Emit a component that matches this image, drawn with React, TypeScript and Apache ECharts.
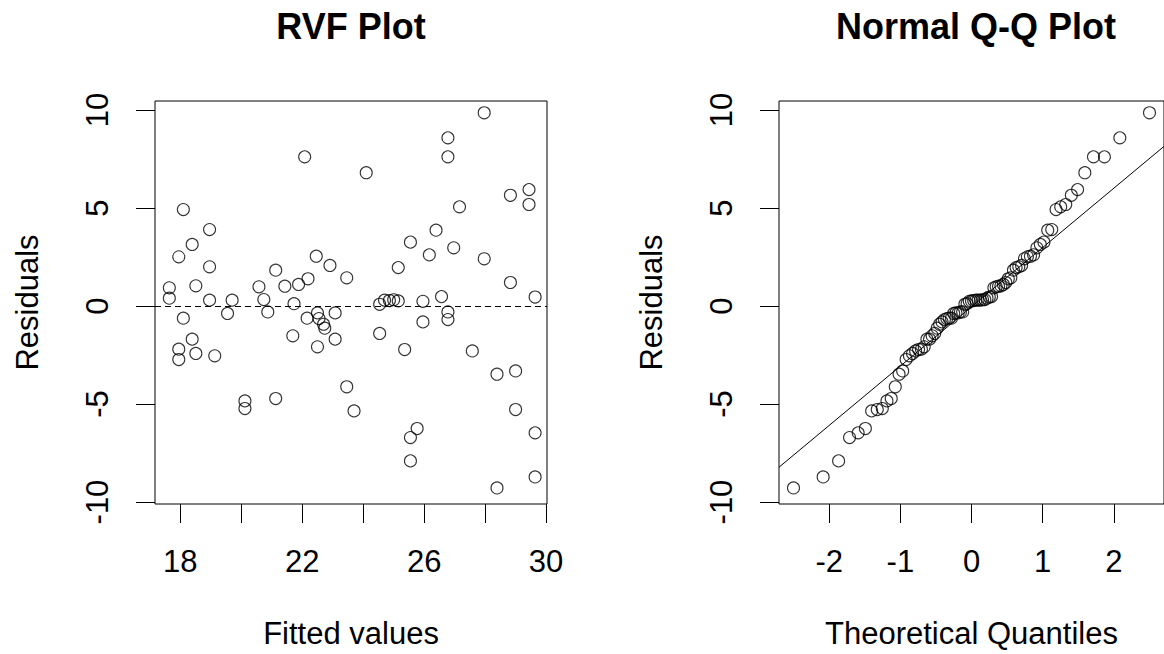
import React, { useEffect, useRef } from "react";
import * as echarts from "echarts";

// ---- data ----
const fittedValues: number[] = [
  22.08, 18.1, 18.96, 18.39, 17.95, 18.96, 22.46, 22.91, 23.46, 21.13,
  22.19, 21.88, 21.43, 20.58, 18.51, 17.64, 17.64, 18.96, 19.7, 20.74,
  21.73, 18.1, 19.55, 20.87, 22.16, 22.5, 22.55, 22.7, 22.74, 23.08,
  23.08, 21.69, 22.5, 18.39, 17.95, 17.95, 18.51, 19.13, 20.12, 20.12,
  21.13, 23.46, 23.7, 27.97, 26.78, 26.78, 24.1, 28.83, 29.44, 29.44,
  27.16, 26.39, 25.55, 26.97, 26.17, 27.97, 25.15, 28.83, 29.64, 26.57,
  25.96, 24.54, 24.7, 24.86, 25.0, 25.15, 26.78, 26.78, 25.96, 24.54,
  25.36, 27.58, 28.39, 29.0, 29.0, 25.77, 25.55, 25.55, 29.64, 29.64, 28.39,
];
const residualValues: number[] = [
  7.61, 4.92, 3.9, 3.14, 2.51, 2.0, 2.54, 2.07, 1.44, 1.83,
  1.39, 1.1, 1.01, 0.98, 1.03, 0.93, 0.4, 0.3, 0.3, 0.33,
  0.12, -0.62, -0.38, -0.3, -0.62, -0.35, -0.64, -0.93, -1.13, -0.35,
  -1.69, -1.52, -2.08, -1.69, -2.2, -2.73, -2.42, -2.54, -4.84, -5.23,
  -4.72, -4.12, -5.35, 9.86, 8.58, 7.61, 6.8, 5.65, 5.94, 5.18,
  5.06, 3.87, 3.26, 2.97, 2.61, 2.41, 1.96, 1.2, 0.46, 0.48,
  0.24, 0.09, 0.3, 0.28, 0.32, 0.26, -0.3, -0.69, -0.81, -1.4,
  -2.22, -2.29, -3.48, -3.31, -5.28, -6.25, -6.71, -7.9, -6.47, -8.72, -9.28,
];

const rvfXTicks: number[] = [18, 20, 22, 24, 26, 28, 30];
const rvfXLabels: number[] = [18, 22, 26, 30];
const yTicks: number[] = [-10, -5, 0, 5, 10];
const qqXTicks: number[] = [-2, -1, 0, 1, 2];

const rvfXRange: number[] = [17.17, 30.03];
const qqXRange: number[] = [-2.706, 2.706];
const yRange: number[] = [-10.1, 10.46];

const titles: string[] = ["RVF Plot", "Normal Q-Q Plot"];
const xNames: string[] = ["Fitted values", "Theoretical Quantiles"];
const yName = "Residuals";

// ---- helpers ----
function qnorm(p: number): number {
  const a = [-3.969683028665376e1, 2.209460984245205e2, -2.759285104469687e2, 1.38357751867269e2, -3.066479806614716e1, 2.506628277459239];
  const b = [-5.447609879822406e1, 1.615858368580409e2, -1.556989798598866e2, 6.680131188771972e1, -1.328068155288572e1];
  const c = [-7.784894002430293e-3, -3.223964580411365e-1, -2.400758277161838, -2.549732539343734, 4.374664141464968, 2.938163982698783];
  const d = [7.784695709041462e-3, 3.224671290700398e-1, 2.445134137142996, 3.754408661907416];
  const pl = 0.02425;
  const ph = 1 - pl;
  if (p < pl) {
    const q = Math.sqrt(-2 * Math.log(p));
    return (((((c[0] * q + c[1]) * q + c[2]) * q + c[3]) * q + c[4]) * q + c[5]) / ((((d[0] * q + d[1]) * q + d[2]) * q + d[3]) * q + 1);
  }
  if (p <= ph) {
    const q = p - 0.5;
    const r = q * q;
    return ((((((a[0] * r + a[1]) * r + a[2]) * r + a[3]) * r + a[4]) * r + a[5]) * q) / (((((b[0] * r + b[1]) * r + b[2]) * r + b[3]) * r + b[4]) * r + 1);
  }
  const q = Math.sqrt(-2 * Math.log(1 - p));
  return -(((((c[0] * q + c[1]) * q + c[2]) * q + c[3]) * q + c[4]) * q + c[5]) / ((((d[0] * q + d[1]) * q + d[2]) * q + d[3]) * q + 1);
}

function quantile7(sorted: number[], p: number): number {
  const h = (sorted.length - 1) * p;
  const lo = Math.floor(h);
  const hi = Math.min(lo + 1, sorted.length - 1);
  return sorted[lo] + (h - lo) * (sorted[hi] - sorted[lo]);
}

const FONT = "'Liberation Sans', Arial, Helvetica, sans-serif";

export default function App() {
  const ref = useRef<HTMLDivElement>(null);

  useEffect(() => {
    if (!ref.current) return;
    const chart = echarts.init(ref.current, null, { renderer: "svg" });

    const n = residualValues.length;
    const sorted = [...residualValues].sort((x, y) => x - y);
    const qqPoints = sorted.map((r, i) => [qnorm((i + 1 - 0.5) / n), r]);
    const q1 = quantile7(sorted, 0.25);
    const q3 = quantile7(sorted, 0.75);
    const slope = (q3 - q1) / (qnorm(0.75) - qnorm(0.25));
    const intercept = q1 - slope * qnorm(0.25);
    const qqLine = qqXRange.map((x) => [x, intercept + slope * x]);

    const axisText = { color: "#000", fontFamily: FONT, fontSize: 31 };
    const tickStyle = { color: "#000", width: 1 };

    const makeX = (gridIndex: number, range: number[], ticks: number[], labels: number[], name: string) => ({
      type: "value",
      gridIndex,
      position: "bottom",
      min: range[0],
      max: range[1],
      axisLine: { show: false, onZero: false },
      splitLine: { show: false },
      axisTick: { show: true, inside: false, length: 19, lineStyle: tickStyle, customValues: ticks },
      axisLabel: { ...axisText, margin: 42, customValues: labels },
      name,
      nameLocation: "middle",
      nameGap: 114,
      nameTextStyle: axisText,
    });
    const makeY = (gridIndex: number) => ({
      type: "value",
      gridIndex,
      position: "left",
      min: yRange[0],
      max: yRange[1],
      axisLine: { show: false, onZero: false },
      splitLine: { show: false },
      axisTick: { show: true, inside: false, length: 19, lineStyle: tickStyle, customValues: yTicks },
      axisLabel: { ...axisText, margin: 42, rotate: 90, customValues: yTicks },
      name: yName,
      nameLocation: "middle",
      nameRotate: 90,
      nameGap: 112,
      nameTextStyle: axisText,
    });

    const pointStyle = { color: "rgba(0,0,0,0)", borderColor: "#000", borderWidth: 1.1 };
    const titleStyle = { fontFamily: FONT, fontSize: 36, fontWeight: "bold", color: "#000" };

    chart.setOption({
      animation: false,
      backgroundColor: "#fff",
      title: [
        { text: titles[0], left: 351, top: 8, textAlign: "center", padding: 0, textStyle: titleStyle },
        { text: titles[1], left: 976, top: 8, textAlign: "center", padding: 0, textStyle: titleStyle },
      ],
      grid: [
        { left: 155, top: 101, width: 392, height: 403, show: true, borderColor: "#000", borderWidth: 1, backgroundColor: "transparent" },
        { left: 779, top: 101, width: 394, height: 403, show: true, borderColor: "#000", borderWidth: 1, backgroundColor: "transparent" },
      ],
      xAxis: [
        makeX(0, rvfXRange, rvfXTicks, rvfXLabels, xNames[0]),
        makeX(1, qqXRange, qqXTicks, qqXTicks, xNames[1]),
      ],
      yAxis: [makeY(0), makeY(1)],
      series: [
        {
          type: "scatter",
          xAxisIndex: 0,
          yAxisIndex: 0,
          symbol: "circle",
          symbolSize: 12,
          itemStyle: pointStyle,
          data: fittedValues.map((f, i) => [f, residualValues[i]]),
          markLine: {
            silent: true,
            symbol: ["none", "none"],
            label: { show: false },
            lineStyle: { color: "#000", width: 1, type: [6, 4] },
            data: [{ yAxis: 0 }],
          },
        },
        {
          type: "scatter",
          xAxisIndex: 1,
          yAxisIndex: 1,
          symbol: "circle",
          symbolSize: 12,
          itemStyle: pointStyle,
          data: qqPoints,
        },
        {
          type: "line",
          xAxisIndex: 1,
          yAxisIndex: 1,
          showSymbol: false,
          symbol: "none",
          lineStyle: { color: "#000", width: 1 },
          data: qqLine,
        },
      ],
    });

    return () => chart.dispose();
  }, []);

  return <div ref={ref} style={{ position: "absolute", left: 0, top: 0, width: 1164, height: 654, background: "#fff" }} />;
}
